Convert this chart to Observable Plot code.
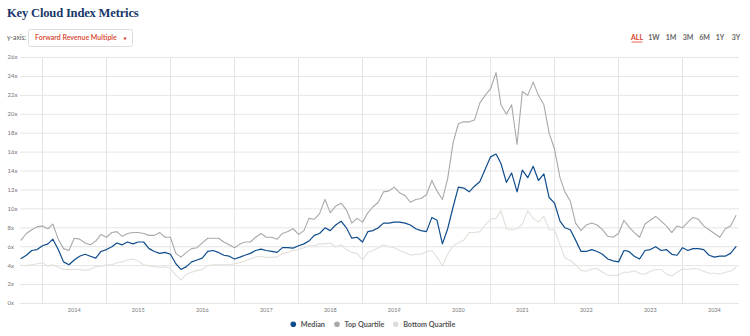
<!DOCTYPE html>
<html><head><meta charset="utf-8">
<script src="https://cdn.jsdelivr.net/npm/d3@7"></script>
<script src="https://cdn.jsdelivr.net/npm/@observablehq/plot@0.6"></script>
<style>
html,body{margin:0;padding:0;background:#fff;}
#wrap{position:relative;width:750px;height:336px;overflow:hidden;font-family:Lato,"Open Sans",sans-serif;}
#head{position:absolute;left:0;top:0;}
#chart{position:absolute;left:0;top:50px;}
#legend{position:absolute;left:0;top:314px;}
</style>
</head><body>
<div id="wrap">
  <svg id="head" width="750" height="50">
    <text x="7" y="17.3" font-family="Liberation Serif, serif" font-weight="bold" font-size="12.6" letter-spacing="-0.2" fill="#17386a">Key Cloud Index Metrics</text>
    <text x="7" y="40.4" font-family="Lato, sans-serif" font-size="6.8" fill="#555">y-axis:</text>
    <rect x="28.5" y="29.5" width="104" height="17" rx="2" fill="#fff" stroke="#dcdcdc"/>
    <text x="35" y="40.4" font-family="Lato, sans-serif" font-weight="600" font-size="7" fill="#d8432b">Forward Revenue Multiple</text>
    <text x="125" y="39.6" font-family="DejaVu Sans, sans-serif" font-size="4" fill="#d8432b" text-anchor="middle">▼</text>
    <g id="ranges" font-family="Lato, sans-serif" font-weight="bold" font-size="7" fill="#666" text-anchor="middle"></g>
  </svg>
  <div id="chart"></div>
  <svg id="legend" width="750" height="22">
    <g id="leg" font-family="Lato, sans-serif" font-weight="bold" font-size="7.2" fill="#555"></g>
  </svg>
</div>
<script>
// ---- data (monthly readings, Sep 2013 .. Nov 2024) ----
const startMonth = "2013-09-01";
const median = [
 4.75,5.1,5.6,5.7,6.1,6.3,6.8,5.7,4.4,4.1,
 4.6,5.0,5.2,5.0,4.8,5.5,5.7,6.0,6.4,6.2,
 6.5,6.3,6.5,6.5,5.8,5.5,5.3,5.4,5.2,4.2,
 3.6,3.9,4.4,4.6,4.8,5.5,5.6,5.4,5.1,5.0,
 4.7,4.9,5.1,5.3,5.6,5.75,5.6,5.5,5.4,5.9,
 5.9,5.85,6.1,6.3,6.6,7.2,7.4,8.0,7.7,8.3,
 8.7,8.0,6.9,7.0,6.5,7.6,7.7,8.0,8.5,8.5,
 8.6,8.6,8.5,8.3,7.9,7.7,7.6,9.1,8.8,6.3,
 7.9,10.2,12.3,12.2,11.8,12.4,12.9,14.2,15.5,15.8,
 14.8,12.8,13.8,11.8,14.1,13.3,14.5,13.0,13.7,11.2,
 10.6,8.7,8.0,7.8,6.7,5.5,5.5,5.7,5.5,5.2,
 4.7,4.5,4.4,5.6,5.5,5.0,4.7,5.6,5.7,6.0,
 5.6,5.7,5.2,5.1,5.9,5.6,5.8,5.8,5.7,5.1,
 4.9,5.0,5.0,5.3,6.0
];
const topQuartile = [
 6.7,7.4,7.8,8.1,8.2,7.9,8.4,6.8,5.8,5.6,
 6.9,6.8,6.4,6.2,6.6,7.3,7.0,7.5,7.6,7.1,
 7.4,7.5,7.5,7.4,7.2,7.2,7.5,7.0,7.0,5.3,
 4.9,5.4,5.8,5.9,6.4,6.9,6.9,6.9,6.5,6.2,
 5.9,6.3,6.5,6.5,7.0,7.4,7.0,7.0,6.8,7.4,
 7.6,7.9,7.3,7.7,9.0,8.9,9.5,11.0,9.6,10.3,
 10.6,9.9,8.5,9.0,8.6,9.6,10.2,10.7,11.8,11.9,
 12.3,11.7,11.4,10.7,11.0,11.1,11.5,13.0,11.9,11.0,
 13.2,17.0,19.0,19.2,19.2,19.4,21.2,22.0,22.7,24.4,
 21.0,20.0,21.0,16.8,22.4,22.0,23.4,22.0,21.0,18.0,
 16.3,13.3,11.8,10.8,8.5,7.7,8.3,8.5,8.3,7.8,
 7.1,7.0,7.4,8.8,8.1,7.5,7.0,8.4,8.8,9.2,
 8.7,8.2,7.5,8.2,8.0,8.6,9.1,8.9,8.2,7.8,
 7.4,7.0,7.9,8.2,9.3
];
const bottomQuartile = [
 4.05,4.0,4.1,4.2,4.3,3.95,4.1,3.85,3.6,3.6,
 3.6,3.6,3.5,3.6,3.9,3.95,4.1,4.1,4.3,4.4,
 4.6,4.7,4.5,4.1,4.0,3.9,3.8,3.9,3.7,3.0,
 2.5,3.1,3.3,3.5,3.6,4.0,4.1,4.1,4.1,4.1,
 4.2,4.3,4.5,4.7,4.9,5.0,4.85,4.9,4.9,5.3,
 5.4,5.6,5.7,5.9,6.1,6.1,6.3,6.3,6.4,6.0,
 6.2,5.7,5.4,5.3,4.6,5.4,5.6,5.9,6.2,6.0,
 5.9,5.6,5.4,5.1,5.2,5.2,5.5,5.6,4.9,4.0,
 5.2,6.1,6.4,6.7,7.5,7.5,7.6,8.3,8.9,9.0,
 9.8,7.9,7.8,7.9,8.4,9.8,9.0,8.6,9.2,7.8,
 7.8,6.2,4.8,4.55,4.1,3.5,3.4,3.65,3.7,3.3,
 3.0,2.95,3.0,3.3,3.3,3.45,3.2,3.1,3.4,3.6,
 3.6,3.1,2.9,3.3,3.65,3.6,3.7,3.65,3.4,3.2,
 3.2,3.1,3.3,3.4,3.8
];
const yTicks = [0,2,4,6,8,10,12,14,16,18,20,22,24,26];
const yearLabels = [2014,2015,2016,2017,2018,2019,2020,2021,2022,2023,2024];
const seriesNames = ["Median","Top Quartile","Bottom Quartile"];
const seriesColors = ["#0f4c8c","#a9a9a9","#e4dfd9"];
const rangeButtons = ["ALL","1W","1M","3M","6M","1Y","3Y"];

// ---- build table ----
const dates = d3.utcMonth.range(new Date(startMonth), new Date("2025-01-01")).slice(0, median.length);
const rows = [];
const seriesArrays = [median, topQuartile, bottomQuartile];
seriesArrays.forEach((arr, si) => arr.forEach((v, i) => rows.push({date: dates[i], value: v, series: seriesNames[si]})));
const yearStarts = yearLabels.map(y => new Date(Date.UTC(y,0,1)));
const yearMids = yearLabels.map(y => new Date(Date.UTC(y,6,1)));

const chart = Plot.plot({
  width: 750, height: 266,
  marginLeft: 20, marginRight: 11, marginTop: 7, marginBottom: 13,
  style: {fontFamily: "Lato, sans-serif", fontSize: "5.5px", color: "#777", background: "transparent"},
  x: {type: "utc", domain: [yearStarts[0], yearStarts[yearStarts.length-1]], range: [42, 682]},
  y: {domain: [0, 26], range: [253, 7]},
  marks: [
    Plot.gridY(yTicks, {stroke: "#e5e5e5", strokeOpacity: 1}),
    Plot.gridX(yearStarts, {stroke: "#e5e5e5", strokeOpacity: 1}),
    Plot.axisY(yTicks, {tickSize: 0, tickPadding: 0, textAnchor: "start", dx: -13, tickFormat: d => d + "x", fill: "#777", fontSize: 6, label: null}),
    Plot.axisX(yearMids, {tickSize: 0, tickPadding: 5, tickFormat: d3.utcFormat("%Y"), fill: "#777", fontSize: 5.5, label: null}),
    Plot.line(rows.filter(d => d.series === "Bottom Quartile"), {x: "date", y: "value", stroke: seriesColors[2], strokeWidth: 1.1}),
    Plot.line(rows.filter(d => d.series === "Top Quartile"), {x: "date", y: "value", stroke: seriesColors[1], strokeWidth: 1.1}),
    Plot.line(rows.filter(d => d.series === "Median"), {x: "date", y: "value", stroke: seriesColors[0], strokeWidth: 1.2})
  ]
});
document.getElementById("chart").appendChild(chart);

// ---- range buttons ----
const ns = "http://www.w3.org/2000/svg";
const rangeX = [637, 654, 671, 688, 704.5, 720, 736];
const rg = document.getElementById("ranges");
rangeButtons.forEach((b, i) => {
  const t = document.createElementNS(ns, "text");
  t.setAttribute("x", rangeX[i]); t.setAttribute("y", 40.2);
  if (i === 0) t.setAttribute("fill", "#d8432b");
  t.textContent = b; rg.appendChild(t);
});
const ul = document.createElementNS(ns, "line");
ul.setAttribute("x1", 631.5); ul.setAttribute("x2", 642.5); ul.setAttribute("y1", 42); ul.setAttribute("y2", 42);
ul.setAttribute("stroke", "#d8432b"); ul.setAttribute("stroke-width", 0.8); rg.appendChild(ul);

// ---- legend ----
const lg = document.getElementById("leg");
const legX = [293.3, 337, 395.7];
seriesNames.forEach((n, i) => {
  const c = document.createElementNS(ns, "circle");
  c.setAttribute("cx", legX[i]); c.setAttribute("cy", 10.3); c.setAttribute("r", 2.8);
  c.setAttribute("fill", i === 2 ? "#dcdcdc" : seriesColors[i]); lg.appendChild(c);
  const t = document.createElementNS(ns, "text");
  t.setAttribute("x", legX[i] + 7.5); t.setAttribute("y", 12.8);
  t.textContent = n; lg.appendChild(t);
});
</script>
</body></html>
